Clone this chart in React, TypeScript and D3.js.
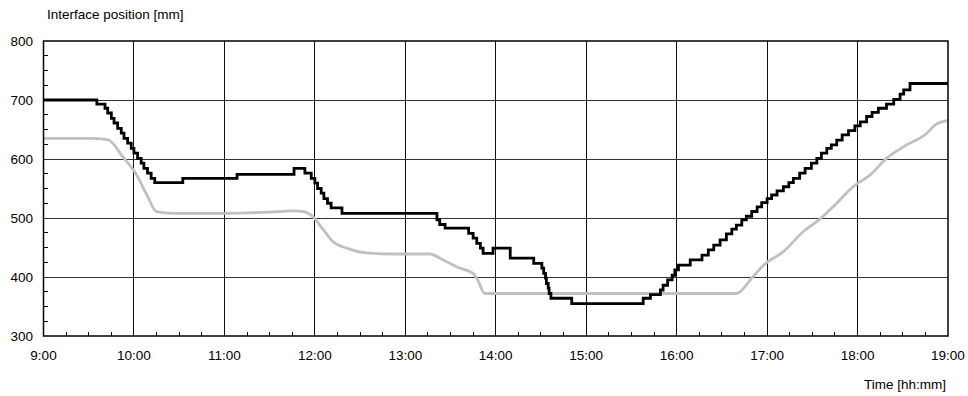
import React, { useEffect, useRef } from 'react';
import * as d3 from 'd3';

// time axis (hours of the day) and its labels
const hourTicks = [9, 10, 11, 12, 13, 14, 15, 16, 17, 18, 19];
const hourLabels = ['9:00', '10:00', '11:00', '12:00', '13:00', '14:00', '15:00', '16:00', '17:00', '18:00', '19:00'];
const positionTicks = [300, 400, 500, 600, 700, 800];

// measured interface position, stepped signal: [hour, mm]
const measured: [number, number][] = [
  [9.0, 700], [9.59, 693], [9.68, 686],
  [9.71, 678], [9.75, 669], [9.78, 661], [9.82, 652], [9.86, 644], [9.89, 635],
  [9.93, 627], [9.97, 618], [10.0, 610], [10.04, 601], [10.08, 593], [10.11, 584],
  [10.15, 576], [10.19, 567], [10.23, 560],
  [10.54, 567], [11.14, 574], [11.77, 584], [11.89, 576],
  [11.96, 567], [12.0, 559], [12.03, 550], [12.07, 542], [12.1, 533], [12.14, 525],
  [12.18, 517], [12.3, 508],
  [13.35, 497], [13.38, 489], [13.44, 483], [13.7, 474], [13.75, 466], [13.79, 457],
  [13.83, 449], [13.86, 440], [13.97, 449], [14.16, 432], [14.42, 423],
  [14.51, 415], [14.53, 406], [14.55, 398], [14.56, 389], [14.58, 381], [14.59, 372],
  [14.61, 364], [14.84, 355],
  [15.63, 364], [15.71, 370], [15.82, 378], [15.85, 386], [15.9, 395], [15.95, 403],
  [15.98, 412], [16.02, 420],
  [16.15, 429], [16.28, 437], [16.35, 446], [16.41, 454], [16.48, 463], [16.55, 473],
  [16.61, 481], [16.66, 488], [16.72, 497], [16.77, 503], [16.83, 511], [16.89, 519],
  [16.94, 526], [17.0, 533], [17.05, 539], [17.11, 546], [17.18, 553], [17.24, 560],
  [17.29, 567], [17.36, 576], [17.42, 584], [17.49, 593], [17.55, 601], [17.6, 610],
  [17.66, 618], [17.71, 624], [17.77, 632], [17.83, 641], [17.9, 648], [17.97, 656],
  [18.03, 663], [18.1, 672], [18.16, 679], [18.23, 686], [18.32, 693], [18.4, 701],
  [18.47, 710], [18.51, 717], [18.58, 728], [19.0, 728],
];

// calculated interface position, smooth curve: [hour, mm]
const calculated: [number, number][] = [
  [9.0, 635], [9.5, 635], [9.71, 633], [9.88, 603], [10.03, 573], [10.14, 540],
  [10.25, 511], [10.43, 508], [11.0, 508], [11.5, 510], [11.76, 512], [11.87, 511],
  [11.98, 502], [12.08, 483], [12.2, 460], [12.35, 449], [12.57, 441], [12.9, 439],
  [13.27, 439], [13.42, 429], [13.57, 417], [13.75, 406], [13.8, 395], [13.88, 372],
  [16.66, 372], [16.84, 400], [16.96, 420], [17.18, 443], [17.4, 477], [17.59, 499],
  [17.77, 525], [17.95, 553], [18.14, 573], [18.32, 601], [18.51, 621], [18.77, 644],
  [18.86, 658], [18.99, 665],
];

const W = 968;
const H = 396;
const plot = { left: 43.5, right: 948, top: 41, bottom: 336 };
const FONT = '"Liberation Sans", Arial, sans-serif';

const App = () => {
  const svgRef = useRef<SVGSVGElement>(null);

  useEffect(() => {
    document.body.style.margin = '0';
    const svg = d3.select(svgRef.current);
    svg.selectAll('*').remove();

    const x = d3.scaleLinear().domain([9, 19]).range([plot.left, plot.right]);
    const y = d3.scaleLinear().domain([300, 800]).range([plot.bottom, plot.top]);

    svg.append('defs').append('clipPath').attr('id', 'plotclip')
      .append('rect')
      .attr('x', plot.left).attr('y', plot.top)
      .attr('width', plot.right - plot.left).attr('height', plot.bottom - plot.top);

    // grid
    const grid = svg.append('g').attr('shape-rendering', 'crispEdges');
    grid.selectAll('line.v').data(hourTicks.slice(1, -1)).enter().append('line')
      .attr('x1', d => x(d)).attr('x2', d => x(d))
      .attr('y1', plot.top).attr('y2', plot.bottom)
      .attr('stroke', '#111').attr('stroke-width', 1);
    grid.selectAll('line.h').data(positionTicks.slice(1, -1)).enter().append('line')
      .attr('y1', d => y(d)).attr('y2', d => y(d))
      .attr('x1', plot.left).attr('x2', plot.right)
      .attr('stroke', '#333').attr('stroke-width', 1);

    // minor ticks, every 15 min and every 25 mm, pointing inwards
    const minorX = d3.range(9, 19, 0.25).filter(v => v % 1 !== 0);
    const minorY = d3.range(300, 800, 25).filter(v => v % 100 !== 0);
    grid.selectAll('line.mx').data(minorX).enter().append('line')
      .attr('x1', d => x(d)).attr('x2', d => x(d))
      .attr('y1', plot.bottom).attr('y2', plot.bottom - 4)
      .attr('stroke', '#000');
    grid.selectAll('line.my').data(minorY).enter().append('line')
      .attr('y1', d => y(d)).attr('y2', d => y(d))
      .attr('x1', plot.left).attr('x2', plot.left + 4)
      .attr('stroke', '#000');

    // series
    const lines = svg.append('g').attr('clip-path', 'url(#plotclip)');
    lines.append('path')
      .datum(calculated)
      .attr('fill', 'none')
      .attr('stroke', '#c0c0c0')
      .attr('stroke-width', 2.8)
      .attr('d', d3.line<[number, number]>().x(d => x(d[0])).y(d => y(d[1])).curve(d3.curveMonotoneX));
    lines.append('path')
      .datum(measured)
      .attr('fill', 'none')
      .attr('stroke', '#000')
      .attr('stroke-width', 2.8)
      .attr('d', d3.line<[number, number]>().x(d => x(d[0])).y(d => y(d[1])).curve(d3.curveStepAfter));

    // frame
    svg.append('rect')
      .attr('x', plot.left).attr('y', plot.top)
      .attr('width', plot.right - plot.left).attr('height', plot.bottom - plot.top)
      .attr('fill', 'none').attr('stroke', '#000').attr('stroke-width', 1.5);

    // labels
    const text = svg.append('g').style('font-family', FONT).style('font-size', '13.5px').attr('fill', '#000');
    text.selectAll('text.yl').data(positionTicks).enter().append('text')
      .attr('x', 33).attr('y', d => y(d)).attr('dy', '0.36em')
      .attr('text-anchor', 'end')
      .text(d => d);
    text.selectAll('text.xl').data(hourTicks).enter().append('text')
      .attr('x', d => x(d)).attr('y', 360)
      .attr('text-anchor', 'middle')
      .text((d, i) => hourLabels[i]);
    text.append('text').attr('x', 47).attr('y', 18.5).text('Interface position [mm]');
    text.append('text').attr('x', 946).attr('y', 389).attr('text-anchor', 'end').text('Time [hh:mm]');
  }, []);

  return <svg ref={svgRef} width={W} height={H} style={{ display: 'block', background: '#fff' }} />;
};

export default App;
